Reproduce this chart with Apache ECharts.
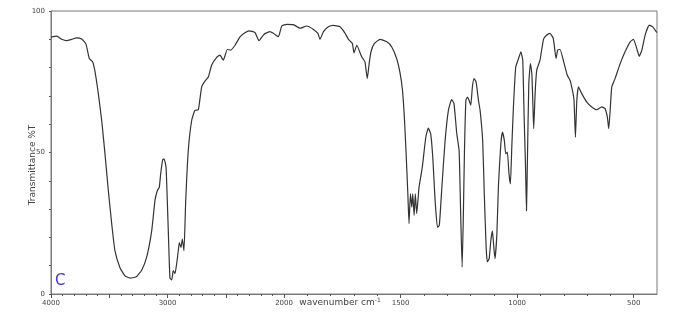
<!DOCTYPE html>
<html>
<head>
<meta charset="utf-8">
<script src="https://cdn.jsdelivr.net/npm/echarts@6/dist/echarts.min.js"></script>
<style>html,body{margin:0;padding:0;background:#fff;}#c{width:677px;height:320px;}</style>
</head>
<body>
<div id="c"></div>
<script>
// Wavenumbers (cm-1) and transmittance (%T)
const wavenumber = [4000,3950,3908,3865,3822,3780,3737,3700,3671,3642,3622,3594,3565,3537,3508,3479,3451,3408,3365,3316,3265,3222,3179,3136,3108,3088,3071,3059,3042,3030,3013,3002,2988,2979,2964,2951,2936,2922,2908,2899,2885,2873,2859,2844,2822,2793,2765,2736,2707,2679,2650,2621,2578,2550,2522,2487,2458,2421,2378,2336,2299,2250,2215,2178,2160,2121,2092,2049,2020,1988,1960,1931,1903,1874,1855,1846,1831,1810,1789,1760,1738,1724,1707,1700,1688,1667,1653,1643,1635,1627,1613,1588,1559,1538,1517,1502,1492,1484,1477,1469,1464,1458,1452,1448,1442,1437,1431,1421,1407,1392,1381,1371,1362,1352,1342,1334,1323,1309,1295,1281,1271,1259,1249,1242,1236,1231,1226,1220,1213,1206,1199,1192,1185,1176,1166,1159,1148,1141,1133,1128,1120,1113,1106,1100,1095,1087,1080,1070,1063,1055,1049,1042,1035,1029,1023,1016,1006,994,984,976,970,964,960,956,950,943,937,933,929,923,916,902,887,873,859,845,833,826,816,802,785,773,763,756,750,744,737,723,701,680,658,637,623,613,607,601,594,580,558,537,515,501,487,476,465,451,433,418,401];
const transmittance = [90.8,91.1,90.0,89.5,90.0,90.5,90.1,88.3,83.2,82.0,78.5,70.8,61.3,49.6,36.5,24.8,15.2,9.3,6.4,5.6,6.2,8.4,13.0,22.3,33.0,36.5,37.7,42.4,47.4,47.8,44.8,33.0,15.2,5.6,5.0,8.3,7.2,10.6,15.2,18.2,16.4,19.4,15.3,33.0,50.7,61.3,64.9,65.1,73.2,75.2,76.7,80.9,83.6,84.4,82.6,86.4,86.2,87.9,90.9,92.3,93.0,92.4,89.5,91.5,92.1,92.7,92.1,90.9,94.7,95.3,95.2,93.9,94.7,93.5,92.1,90.0,92.7,94.4,94.9,94.4,92.1,90.0,88.5,85.2,87.9,83.8,82.0,76.1,81.4,85.6,88.5,90.0,89.1,87.3,83.2,77.9,72.0,62.5,50.7,35.4,24.9,35.4,30.7,35.4,27.8,35.4,28.4,37.7,44.8,55.4,58.6,56.6,48.3,33.0,23.6,24.2,37.7,54.3,64.9,68.7,67.3,56.6,50.7,27.1,9.5,27.1,50.7,68.4,69.6,68.4,66.7,73.2,76.1,74.9,68.4,64.9,54.3,35.4,16.4,11.3,12.5,18.8,22.3,16.4,12.5,21.2,38.9,53.1,57.2,54.3,49.5,50.1,42.4,38.9,51.9,66.1,80.3,83.2,85.6,82.6,62.5,44.8,29.4,47.2,74.4,81.4,77.9,68.4,58.4,70.8,79.1,82.6,90.0,91.5,92.1,90.3,83.2,86.2,86.4,82.6,77.3,75.5,72.0,68.4,55.4,68.4,73.2,70.8,67.8,66.1,65.1,66.1,65.5,62.5,58.4,64.9,73.2,76.1,81.4,85.6,89.1,90.0,86.8,84.0,86.2,91.5,95.0,94.4,92.4];
const xLabelValues = [4000,3000,2000,1500,1000,500];
const xMajorTicks = [4000,3500,3000,2500,2000,1500,1000,500];
const yLabelValues = [0,50,100];

// Spectrometer axis: scale doubles below 2000 cm-1
function toAxis(w){ return w >= 2000 ? (4000 - w) / 2 : 1000 + (2000 - w); }
function fromAxis(u){ return u <= 1000 ? 4000 - 2 * u : 2000 - (u - 1000); }

const xMinorTicks = [];
for (let w = 3900; w >= 500; w -= 100) { if (xMajorTicks.indexOf(w) < 0) xMinorTicks.push(w); }

const seriesData = wavenumber.map((w, i) => [toAxis(w), transmittance[i]]);

const chart = echarts.init(document.getElementById('c'), null, {renderer: 'canvas'});
const axisColor = '#7a7a7a';
const labelFont = {fontSize: 7, color: '#444', fontFamily: 'DejaVu Sans'};
chart.setOption({
  backgroundColor: '#fff',
  animation: false,
  grid: {left: 51, right: 20, top: 11, bottom: 26, show: true, borderColor: axisColor, borderWidth: 1, backgroundColor: 'transparent'},
  xAxis: [{
    type: 'value', min: 0, max: 2600, position: 'bottom',
    axisLine: {show: true, lineStyle: {color: axisColor, width: 1}},
    axisTick: {show: true, length: 4, lineStyle: {color: '#555'}, customValues: xMajorTicks.map(toAxis)},
    axisLabel: Object.assign({margin: 6, customValues: xLabelValues.map(toAxis), formatter: v => String(Math.round(fromAxis(v)))}, labelFont),
    splitLine: {show: false}
  }, {
    type: 'value', min: 0, max: 2600, position: 'bottom', offset: 0,
    axisLine: {show: false},
    axisTick: {show: true, length: 2, lineStyle: {color: '#555'}, customValues: xMinorTicks.map(toAxis)},
    axisLabel: {show: false},
    splitLine: {show: false}
  }],
  yAxis: {
    type: 'value', min: 0, max: 100, interval: 10,
    axisLine: {show: true, lineStyle: {color: axisColor, width: 1}},
    axisTick: {show: true, length: 2, lineStyle: {color: '#555'}},
    axisLabel: Object.assign({margin: 6, formatter: v => (yLabelValues.indexOf(v) >= 0 ? String(v) : '')}, labelFont),
    splitLine: {show: false}
  },
  graphic: [
    {type: 'text', rotation: Math.PI / 2, x: 33, y: 165, style: {text: 'Transmittance %T', fontSize: 9, fontFamily: 'DejaVu Sans', fill: '#444', align: 'center', verticalAlign: 'middle'}},
    {type: 'text', x: 340, y: 303, style: {text: 'wavenumber cm{s|-1}', rich: {s: {fontSize: 6, verticalAlign: 'top', padding: [0,0,5,0], fill: '#444', fontFamily: 'DejaVu Sans'}}, fontSize: 9, fontFamily: 'DejaVu Sans', fill: '#444', align: 'center', verticalAlign: 'middle'}},
    {type: 'text', left: 55, top: 274, style: {text: 'C', fontSize: 15, fontFamily: 'DejaVu Sans', fill: '#3b3bd0'}}
  ],
  series: [{
    type: 'line', xAxisIndex: 0, data: seriesData, showSymbol: false, smooth: 0.15,
    lineStyle: {color: '#333', width: 1.2}
  }]
});
</script>
</body>
</html>
